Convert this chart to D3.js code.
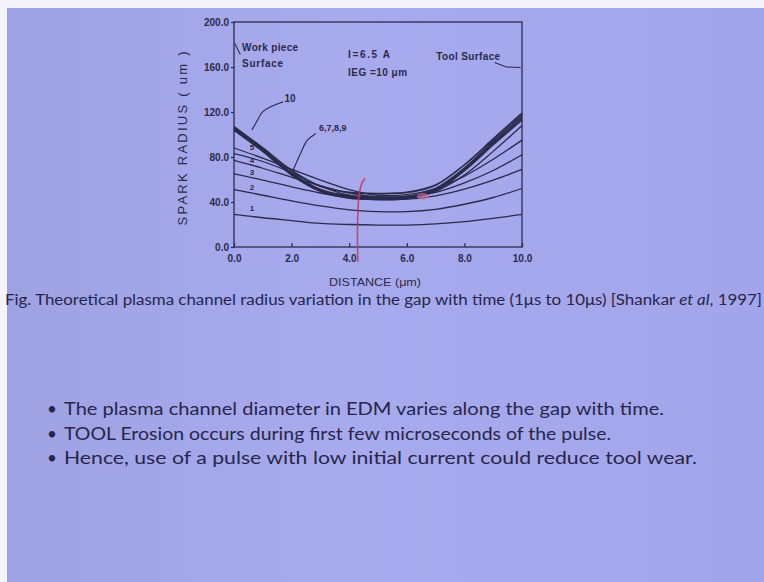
<!DOCTYPE html>
<html>
<head>
<meta charset="utf-8">
<script src="https://cdn.jsdelivr.net/npm/d3@7"></script>
<style>
  html, body { margin: 0; padding: 0; background: #a6a8ea; }
  svg { display: block; }
</style>
</head>
<body>
<svg id="chart" width="764" height="582"></svg>
<script>
// ---- data ----
const distance = [0, 1, 2, 3, 4, 5, 6, 7, 8, 9, 10];
const curve1  = [29, 26, 23.5, 21, 20, 19.5, 19.5, 20.5, 22.5, 25.5, 29];
const curve2  = [51, 46, 41, 36.5, 33, 31.5, 31.5, 33.5, 38, 44, 52];
const curve3  = [65, 59.5, 53.5, 48, 44, 42, 42.5, 45.5, 51.5, 59.5, 69];
const curve4  = [77, 70, 62, 54.5, 48, 44.5, 44.5, 48.5, 57, 68, 82];
const curve5  = [88, 79, 69, 59.5, 51, 46, 46.5, 52, 63, 78, 95];
const curve6  = [83, 76, 66, 54, 46, 43, 43.5, 49.5, 64, 85, 108];
const curve7  = [104, 85, 64, 49.5, 43.5, 42.5, 43, 50, 68, 91, 113];
const curve8  = [105, 86, 65, 50, 44.5, 43.5, 44, 51, 69, 92, 115];
const curve9  = [106, 87, 66, 51, 45.5, 44.5, 45, 52, 70, 94, 117];
const curve10 = [107, 88, 68, 54, 48.5, 47.5, 48.5, 55, 73, 96, 119];
const thinCurves = [curve1, curve2, curve3, curve4, curve5, curve6];
const thickCurves = [curve7, curve8, curve9, curve10];
const yTicks = [0, 40, 80, 120, 160, 200];
const xTicks = [0, 2, 4, 6, 8, 10];
const curveLabels = ["1", "2", "3", "4", "5"];
const curveLabelValues = [35, 53, 67, 77, 89];
const bullets = [
  "The plasma channel diameter in EDM varies along the gap with time.",
  "TOOL Erosion occurs during first few microseconds of the pulse.",
  "Hence, use of a pulse with low initial current could reduce tool wear."
];

// ---- drawing ----
const svg = d3.select("#chart");
const W = 764, H = 582;
const ink = "#2a2a4a";

// background
const defs = svg.append("defs");
const grad = defs.append("linearGradient").attr("id", "bg").attr("x1", "0").attr("x2", "1").attr("y1", "0").attr("y2", "0");
grad.append("stop").attr("offset", "0").attr("stop-color", "#9ea2e2");
grad.append("stop").attr("offset", "0.45").attr("stop-color", "#a8aaee");
grad.append("stop").attr("offset", "1").attr("stop-color", "#a3a5ea");
svg.append("rect").attr("width", W).attr("height", H).attr("fill", "url(#bg)");
svg.append("rect").attr("width", W).attr("height", 8).attr("fill", "#f4f4fa");
svg.append("rect").attr("width", 7).attr("height", H).attr("fill", "#f4f4fa");

const x = d3.scaleLinear().domain([0, 10]).range([234, 522]);
const y = d3.scaleLinear().domain([0, 200]).range([247, 22]);

const g = svg.append("g");

// frame
g.append("rect").attr("x", x(0)).attr("y", y(200)).attr("width", x(10) - x(0)).attr("height", y(0) - y(200))
  .attr("fill", "none").attr("stroke", ink).attr("stroke-width", 1.3);

// y axis
const yAxis = d3.axisLeft(y).tickValues(yTicks).tickFormat(d3.format(".1f")).tickSize(3).tickPadding(2);
const gy = g.append("g").attr("transform", `translate(${x(0)},0)`).call(yAxis);
gy.select(".domain").remove();
gy.selectAll("line").attr("stroke", ink).attr("stroke-width", 1.2);
gy.selectAll("text").attr("fill", ink).style("font-family", "Liberation Sans, Arial, sans-serif")
  .style("font-weight", "bold").style("font-size", "10px");

// x axis (ticks inward)
const xAxis = d3.axisBottom(x).tickValues(xTicks).tickFormat(d3.format(".1f")).tickSizeInner(-4).tickSizeOuter(0).tickPadding(8);
const gx = g.append("g").attr("transform", `translate(0,${y(0)})`).call(xAxis);
gx.select(".domain").remove();
gx.selectAll("line").attr("stroke", ink).attr("stroke-width", 1.2);
gx.selectAll("text").attr("fill", ink).style("font-family", "Liberation Sans, Arial, sans-serif")
  .style("font-weight", "bold").style("font-size", "10px");

// axis titles
g.append("text").attr("transform", `translate(187,${(y(0) + y(200)) / 2 + 4}) rotate(-90)`)
  .attr("text-anchor", "middle").attr("fill", ink)
  .attr("textLength", 174).attr("lengthAdjust", "spacing")
  .style("font-family", "Liberation Sans, Arial, sans-serif").style("font-size", "13px")
  .text("SPARK  RADIUS ( um )");
g.append("text").attr("x", 375).attr("y", 286).attr("text-anchor", "middle").attr("fill", ink)
  .attr("textLength", 92).attr("lengthAdjust", "spacingAndGlyphs")
  .style("font-family", "Liberation Sans, Arial, sans-serif").style("font-size", "11.5px")
  .text("DISTANCE (\u03bcm)");

// curves
const line = d3.line().x((d, i) => x(distance[i])).y(d => y(d)).curve(d3.curveCatmullRom.alpha(0.5));
g.selectAll("path.thin").data(thinCurves).join("path").attr("class", "thin")
  .attr("d", line).attr("fill", "none").attr("stroke", ink).attr("stroke-width", 1.3);
g.selectAll("path.thick").data(thickCurves).join("path").attr("class", "thick")
  .attr("d", line).attr("fill", "none").attr("stroke", ink).attr("stroke-width", 1.7);

// curve number labels at left
g.selectAll("text.cl").data(curveLabels).join("text").attr("class", "cl")
  .attr("x", x(0.62)).attr("y", (d, i) => y(curveLabelValues[i]) + 3)
  .attr("text-anchor", "middle").attr("fill", ink)
  .style("font-family", "Liberation Sans, Arial, sans-serif").style("font-weight", "bold").style("font-size", "8px")
  .text(d => d);

const annFont = sel => sel.attr("fill", ink).style("font-family", "Liberation Sans Narrow, Liberation Sans, Arial, sans-serif")
  .style("font-weight", "bold").style("font-size", "10px");

// "10" and "6,7,8,9" labels with leaders
g.append("text").attr("x", x(1.75)).attr("y", y(132) + 3.5).call(annFont).text("10");
g.append("path").attr("d", d3.line().curve(d3.curveBasis)(
  [[x(1.7), y(129)], [x(1.2), y(124)], [x(0.95), y(120)], [x(0.85), y(114)], [x(0.62), y(104)]]))
  .attr("fill", "none").attr("stroke", ink).attr("stroke-width", 1.1);
g.append("text").attr("x", x(2.95)).attr("y", y(106) + 3.5).call(annFont).style("font-size", "9px").text("6,7,8,9");
g.append("path").attr("d", d3.line().curve(d3.curveBasis)(
  [[x(2.85), y(101)], [x(2.5), y(95)], [x(2.4), y(88)], [x(2.25), y(80)], [x(2.05), y(68)]]))
  .attr("fill", "none").attr("stroke", ink).attr("stroke-width", 1.1);

// text annotations
g.append("text").attr("x", x(0.28)).attr("y", y(177) + 3.5).call(annFont).attr("textLength", 56).text("Work piece");
g.append("text").attr("x", x(0.28)).attr("y", y(163) + 3.5).call(annFont).attr("textLength", 41).text("Surface");
g.append("path").attr("d", d3.line()([[x(0.03), y(181)], [x(0.22), y(171)]]))
  .attr("stroke", ink).attr("stroke-width", 1.1);
g.append("text").attr("x", x(3.96)).attr("y", y(171) + 3.5).call(annFont).attr("textLength", 42).text("I=6.5 A");
g.append("text").attr("x", x(3.96)).attr("y", y(155) + 3.5).call(annFont).attr("textLength", 59).text("IEG =10 \u03bcm");
g.append("text").attr("x", x(7.02)).attr("y", y(169) + 3.5).call(annFont).attr("textLength", 64).text("Tool Surface");
g.append("path").attr("d", d3.line()([[x(9.05), y(164)], [x(9.45), y(160)], [x(9.95), y(159.5)]]))
  .attr("fill", "none").attr("stroke", ink).attr("stroke-width", 1.1);

// red pen marks on the slide
g.append("path").attr("d", d3.line().curve(d3.curveBasis)(
  [[x(4.3), y(-13)], [x(4.28), y(10)], [x(4.3), y(35)], [x(4.35), y(50)], [x(4.45), y(58)], [x(4.55), y(61)]]))
  .attr("fill", "none").attr("stroke", "#c8345a").attr("stroke-width", 1.6).attr("opacity", 0.85);
g.append("ellipse").attr("cx", x(6.56)).attr("cy", y(45)).attr("rx", 6).attr("ry", 3.5)
  .attr("fill", "#d8709a").attr("opacity", 0.6);

// caption
const cap = svg.append("text").attr("x", 5).attr("y", 305).attr("fill", "#26264a")
  .attr("textLength", 757).attr("lengthAdjust", "spacingAndGlyphs")
  .style("font-family", "Lato, 'Open Sans', sans-serif").style("font-size", "15.5px");
cap.append("tspan").text("Fig. Theoretical plasma channel radius variation in the gap with time (1\u03bcs to 10\u03bcs) [Shankar ");
cap.append("tspan").style("font-style", "italic").text("et al");
cap.append("tspan").text(", 1997]");

// bullets
const bulletLens = [600, 547, 633];
const bg = svg.append("g");
bg.selectAll("text.dot").data(bullets).join("text").attr("class", "dot")
  .attr("x", 47).attr("y", (d, i) => 415 + i * 24.5).attr("fill", "#26264a")
  .style("font-family", "Lato, sans-serif").style("font-size", "17px").text("\u2022");
bg.selectAll("text.bl").data(bullets).join("text").attr("class", "bl")
  .attr("x", 64).attr("y", (d, i) => 415 + i * 24.5).attr("fill", "#26264a")
  .attr("textLength", (d, i) => bulletLens[i]).attr("lengthAdjust", "spacingAndGlyphs")
  .style("font-family", "Lato, sans-serif").style("font-size", "18px").text(d => d);
</script>
</body>
</html>
